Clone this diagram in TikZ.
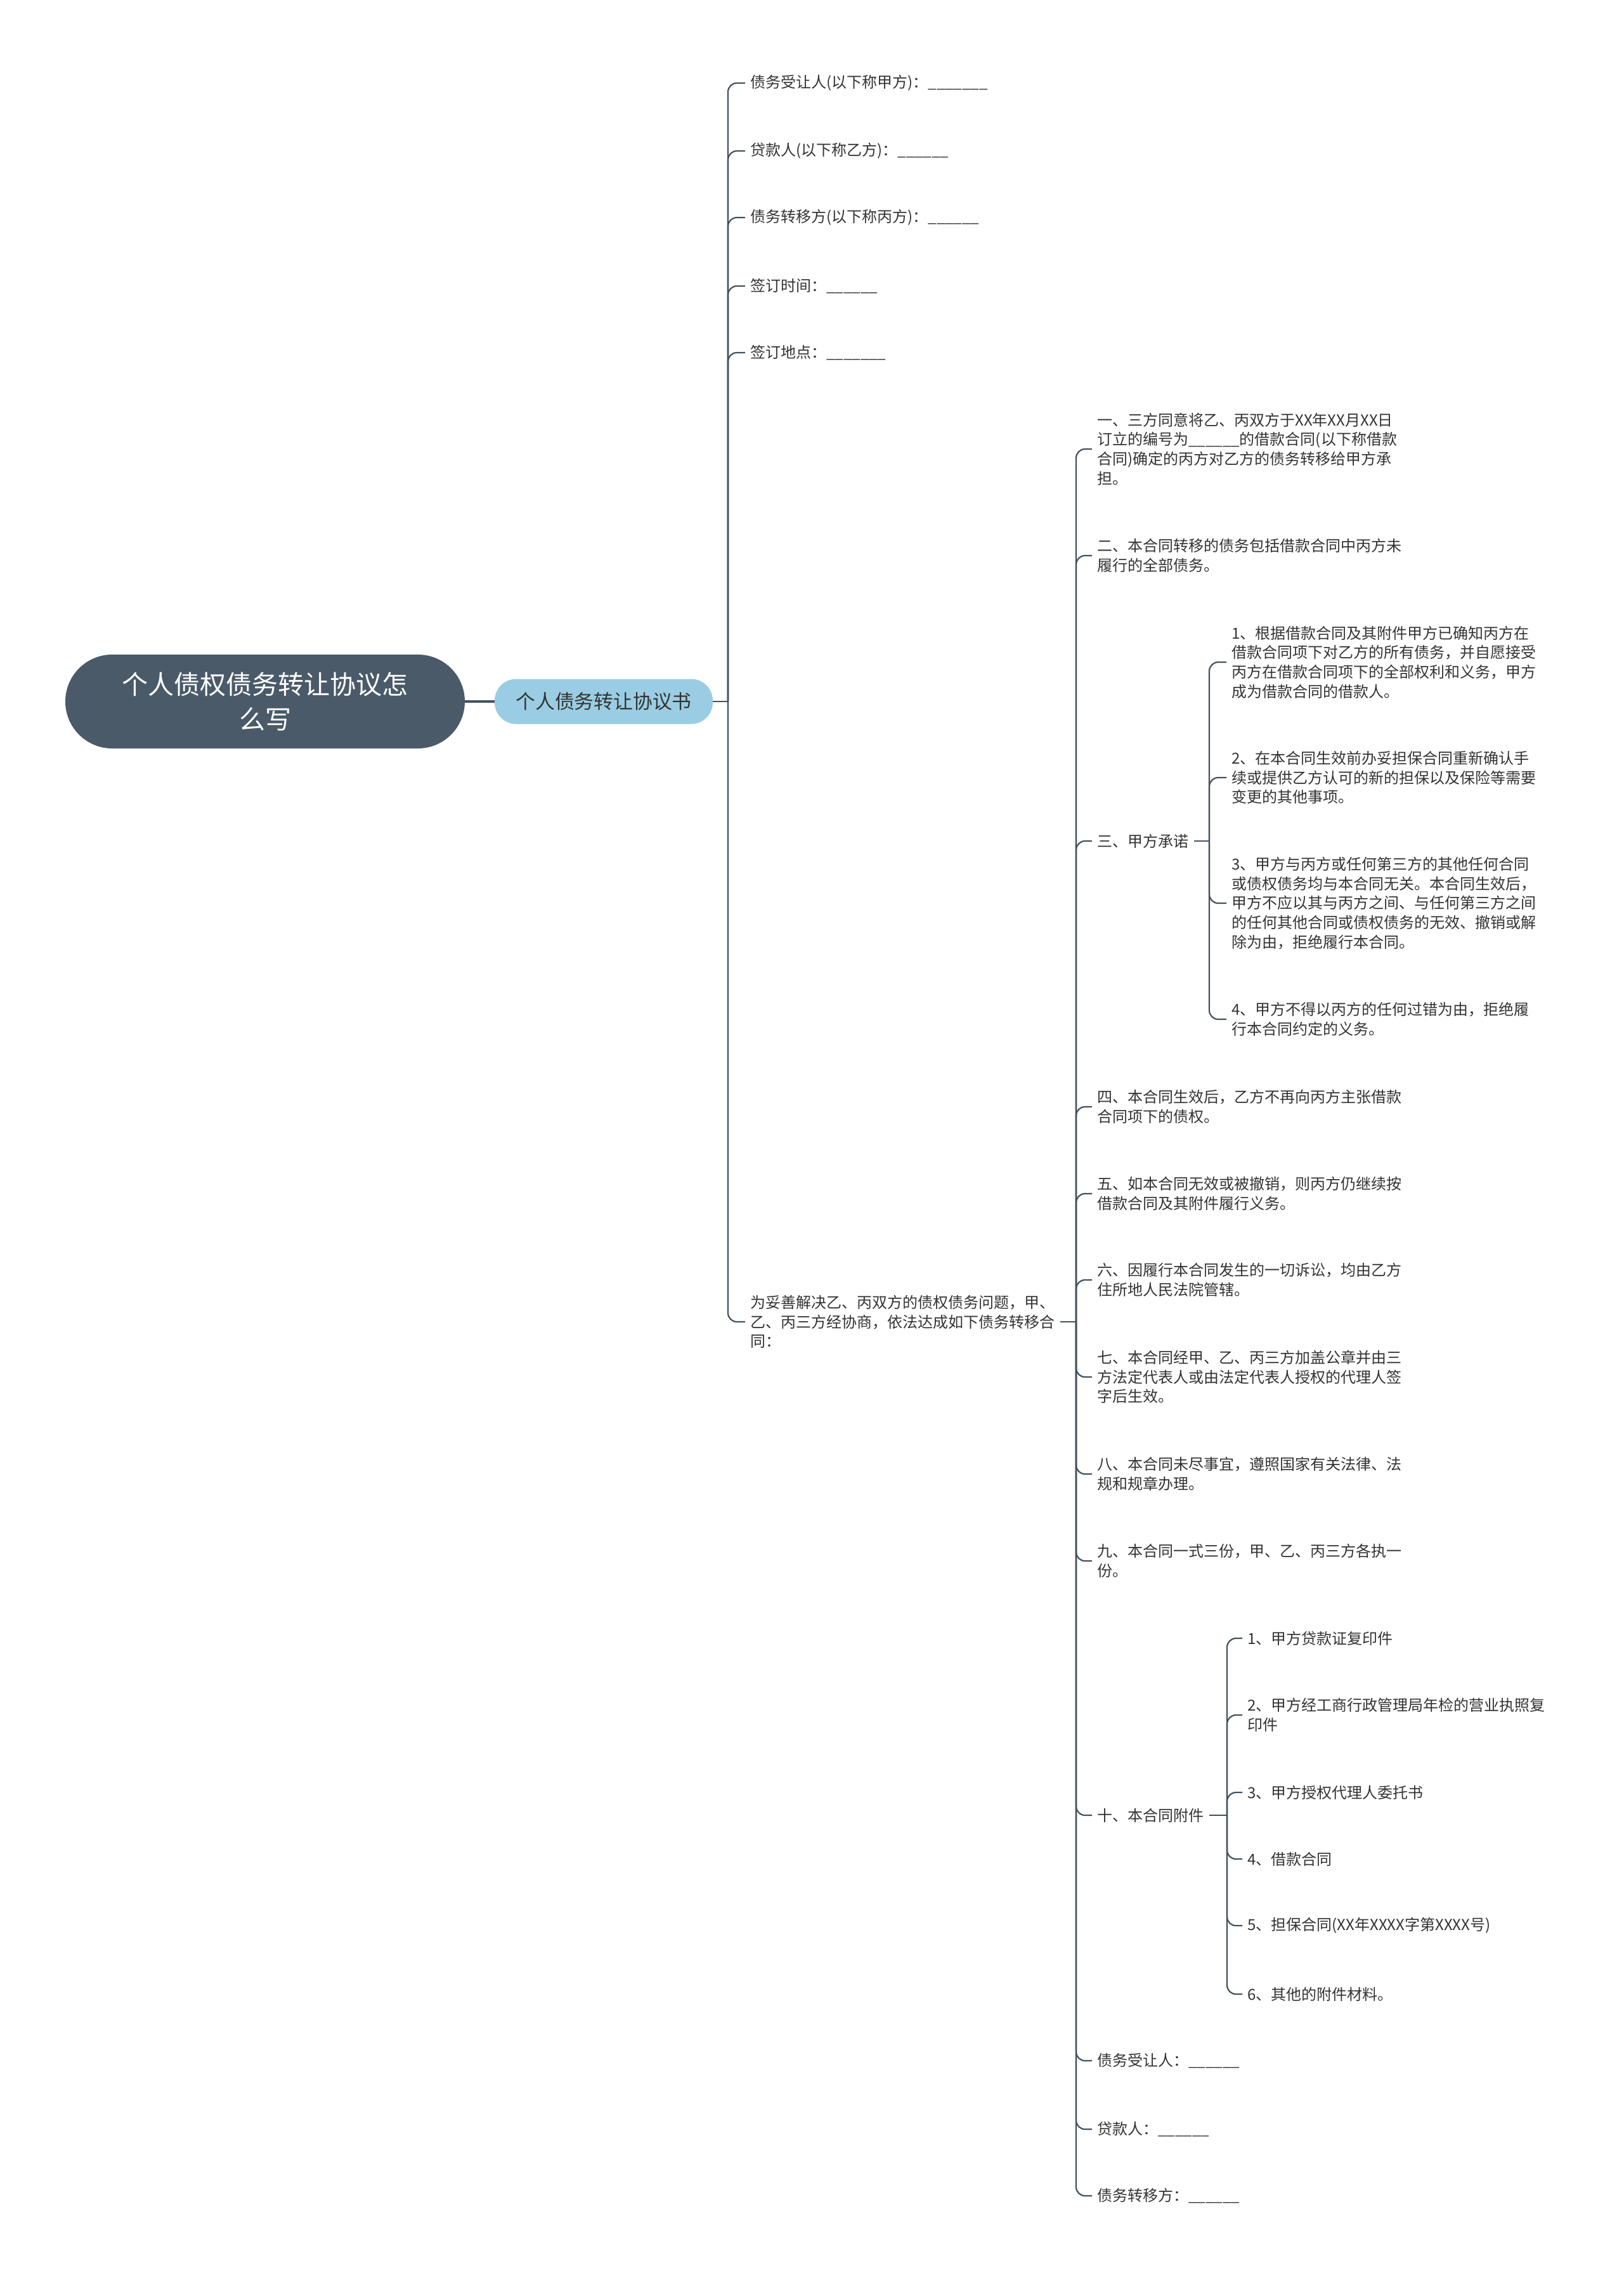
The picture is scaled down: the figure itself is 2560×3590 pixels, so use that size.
\documentclass[tikz,border=0pt]{standalone}
\usepackage{fontspec}
\setmainfont{Noto Sans CJK SC}
\usetikzlibrary{positioning}
\definecolor{slate}{HTML}{4A5A69}
\definecolor{skyfill}{HTML}{9ACDE3}
\definecolor{wire}{HTML}{43515E}
\definecolor{ink}{HTML}{333333}
\newcommand{\blank}{\_\_\_\_\_\_}

\begin{document}
\begin{tikzpicture}[x=0.5pt, y=-0.5pt,
        conn/.style={draw=wire, line width=1.1pt, rounded corners=7pt},
        leaf/.style={anchor=west, align=left, text=ink, inner xsep=4pt, inner ysep=0pt,
            font=\fontsize{12pt}{15.35pt}\selectfont},
        rootbox/.style={fill=slate, text=white, align=center, rounded corners=37pt,
            minimum width=315pt, minimum height=74pt,
            font=\fontsize{20.5pt}{27.5pt}\selectfont},
        bookbox/.style={fill=skyfill, text=ink, rounded corners=17pt,
            minimum width=172pt, minimum height=35.5pt,
            font=\fontsize{15.4pt}{18pt}\selectfont}]
    \useasboundingbox (0,0) rectangle (2560,3590);

    % centre
    \node[rootbox] (root) at (418,1106) {个人债权债务转让协议怎\\么写};
    \node[bookbox] (book) at (952,1106) {个人债务转让协议书};
    \draw[wire, line width=2pt] (root) -- (book);
    \coordinate (tb) at (1148,1106);
    \draw[wire, line width=1.4pt] (book.east) -- (tb);

    % parties, time, place
    \foreach \n/\y/\t in {pa/131/{债务受让人(以下称甲方)：\blank\_},
                          pb/238/{贷款人(以下称乙方)：\blank},
                          pc/343/{债务转移方(以下称丙方)：\blank},
                          pd/451/{签订时间：\blank},
                          pe/556/{签订地点：\blank\_}}
    {
        \node[leaf] (\n) at (1175,\y) {\t};
        \draw[conn] (tb) |- (\n.west);
    }

    % preamble of the contract
    \node[leaf] (wt) at (1175,2084) {为妥善解决乙、丙双方的债权债务问题，甲、\\乙、丙三方经协商，依法达成如下债务转移合\\同：};
    \draw[conn] (tb) |- (wt.west);
    \coordinate (tw) at (1697,2084);
    \draw[wire, line width=1.1pt] (wt.east) -- (tw);

    % articles
    \node[leaf] (k1) at (1722,708) {一、三方同意将乙、丙双方于XX年XX月XX日\\订立的编号为\blank 的借款合同(以下称借款\\合同)确定的丙方对乙方的债务转移给甲方承\\担。};
    \node[leaf] (k2) at (1722,876) {二、本合同转移的债务包括借款合同中丙方未\\履行的全部债务。};
    \node[leaf] (k3) at (1722,1326) {三、甲方承诺};
    \node[leaf] (k4) at (1722,1745) {四、本合同生效后，乙方不再向丙方主张借款\\合同项下的债权。};
    \node[leaf] (k5) at (1722,1882) {五、如本合同无效或被撤销，则丙方仍继续按\\借款合同及其附件履行义务。};
    \node[leaf] (k6) at (1722,2018) {六、因履行本合同发生的一切诉讼，均由乙方\\住所地人民法院管辖。};
    \node[leaf] (k7) at (1722,2171) {七、本合同经甲、乙、丙三方加盖公章并由三\\方法定代表人或由法定代表人授权的代理人签\\字后生效。};
    \node[leaf] (k8) at (1722,2324) {八、本合同未尽事宜，遵照国家有关法律、法\\规和规章办理。};
    \node[leaf] (k9) at (1722,2461) {九、本合同一式三份，甲、乙、丙三方各执一\\份。};
    \node[leaf] (k10) at (1722,2862) {十、本合同附件};
    \node[leaf] (s1) at (1722,3249) {债务受让人：\blank};
    \node[leaf] (s2) at (1722,3357) {贷款人：\blank};
    \node[leaf] (s3) at (1722,3462) {债务转移方：\blank};
    \foreach \n in {k1,k2,k3,k4,k5,k6,k7,k8,k9,k10,s1,s2,s3}
        \draw[conn] (tw) |- (\n.west);

    % promises of party A
    \coordinate (t3) at (1907,1326);
    \draw[wire, line width=1.1pt] (k3.east) -- (t3);
    \node[leaf] (h1) at (1934,1044) {1、根据借款合同及其附件甲方已确知丙方在\\借款合同项下对乙方的所有债务，并自愿接受\\丙方在借款合同项下的全部权利和义务，甲方\\成为借款合同的借款人。};
    \node[leaf] (h2) at (1934,1226) {2、在本合同生效前办妥担保合同重新确认手\\续或提供乙方认可的新的担保以及保险等需要\\变更的其他事项。};
    \node[leaf] (h3) at (1934,1424) {3、甲方与丙方或任何第三方的其他任何合同\\或债权债务均与本合同无关。本合同生效后，\\甲方不应以其与丙方之间、与任何第三方之间\\的任何其他合同或债权债务的无效、撤销或解\\除为由，拒绝履行本合同。};
    \node[leaf] (h4) at (1934,1607) {4、甲方不得以丙方的任何过错为由，拒绝履\\行本合同约定的义务。};
    \foreach \n in {h1,h2,h3,h4}
        \draw[conn] (t3) |- (\n.west);

    % attachments
    \coordinate (t10) at (1935,2862);
    \draw[wire, line width=1.1pt] (k10.east) -- (t10);
    \foreach \n/\y/\t in {f1/2583/{1、甲方贷款证复印件},
                          f2/2704/{2、甲方经工商行政管理局年检的营业执照复\\印件},
                          f3/2826/{3、甲方授权代理人委托书},
                          f4/2931/{4、借款合同},
                          f5/3036/{5、担保合同(XX年XXXX字第XXXX号)},
                          f6/3144/{6、其他的附件材料。}}
    {
        \node[leaf] (\n) at (1959,\y) {\t};
        \draw[conn] (t10) |- (\n.west);
    }
\end{tikzpicture}
\end{document}
